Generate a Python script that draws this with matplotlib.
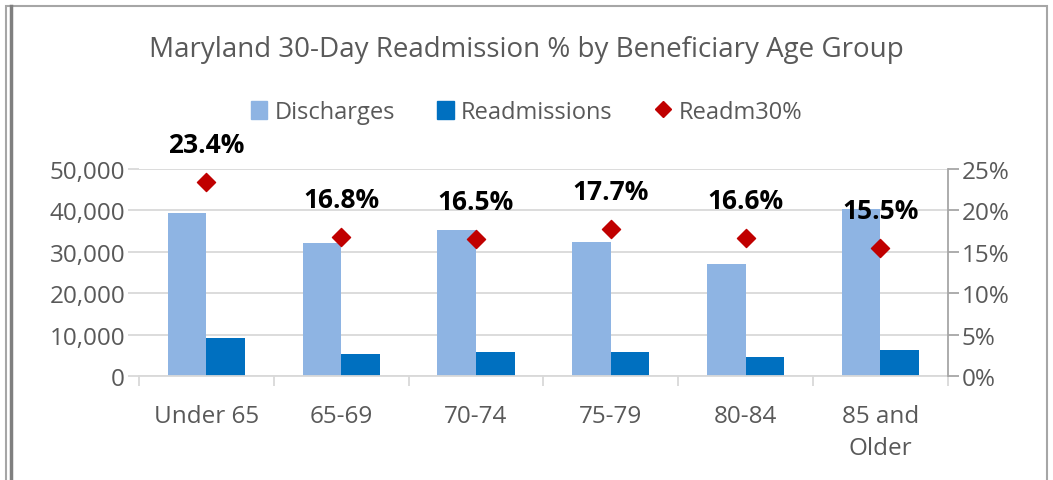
import matplotlib
matplotlib.use('Agg')
import matplotlib.pyplot as plt
import numpy as np
from matplotlib.patches import Rectangle
from matplotlib.lines import Line2D

plt.rcParams['font.family'] = ['Open Sans', 'DejaVu Sans']

# Данные
groups = ['Under 65', '65-69', '70-74', '75-79', '80-84', '85 and\nOlder']
discharges = [39400, 32100, 35300, 32300, 27000, 40300]
readmissions = [9200, 5400, 5800, 5700, 4500, 6250]
readm_pct = [23.4, 16.8, 16.5, 17.7, 16.6, 15.5]

light_blue = '#8eb4e3'
dark_blue = '#0070c0'
red = '#c00000'
gray = '#595959'
grid = '#d9d9d9'

fig = plt.figure(figsize=(10.53, 4.81), dpi=100)
ax = fig.add_axes([0.132, 0.216, 0.768, 0.431])
ax2 = ax.twinx()

x = np.arange(len(groups))
w = 0.286
ax.bar(x - w / 2, discharges, w, color=light_blue, zorder=2)
ax.bar(x + w / 2, readmissions, w, color=dark_blue, zorder=2)

ax.set_xlim(-0.5, len(groups) - 0.5)
ax.set_ylim(0, 50000)
ax.set_yticks(np.arange(0, 50001, 10000))
ax.set_yticklabels(['{:,}'.format(v) for v in range(0, 50001, 10000)])
ax.yaxis.grid(True, color=grid, linewidth=1.3, zorder=0)
ax.set_axisbelow(True)
ax.set_xticks(x)
ax.set_xticklabels(groups, linespacing=1.45)
ax.set_xticks(np.arange(-0.5, len(groups)), minor=True)
ax.tick_params(axis='x', which='major', length=0, pad=20, labelsize=17.5, labelcolor=gray)
ax.tick_params(axis='x', which='minor', length=7, color=grid, width=1.3)
ax.tick_params(axis='y', length=8, color=grid, width=1.3, labelsize=17.5, labelcolor=gray, pad=2)
for s in ['top', 'right', 'left']:
    ax.spines[s].set_visible(False)
ax.spines['bottom'].set_color(grid)
ax.spines['bottom'].set_linewidth(1.3)

ax2.scatter(x, readm_pct, marker='D', s=85, color=red, zorder=3)
ax2.set_ylim(0, 25)
ax2.set_yticks(np.arange(0, 26, 5))
ax2.set_yticklabels(['{}%'.format(v) for v in range(0, 26, 5)])
ax2.tick_params(axis='y', length=8, color='#a6a6a6', width=1.3, labelsize=17.5, labelcolor=gray, pad=2)
for s in ['top', 'left', 'bottom']:
    ax2.spines[s].set_visible(False)
ax2.spines['right'].set_color('#a6a6a6')
ax2.spines['right'].set_linewidth(1.3)

for xi, p in zip(x, readm_pct):
    ax2.annotate('{:.1f}%'.format(p), (xi, p), xytext=(0, 27), textcoords='offset points',
                 ha='center', va='center', fontsize=19, fontweight='bold', color='black')

fig.text(0.5, 0.896, 'Maryland 30-Day Readmission % by Beneficiary Age Group',
         ha='center', va='center', fontsize=20, color=gray)

handles = [Rectangle((0, 0), 1, 1, color=light_blue),
           Rectangle((0, 0), 1, 1, color=dark_blue),
           Line2D([], [], marker='D', color=red, linestyle='none', markersize=8)]
fig.legend(handles, ['Discharges', 'Readmissions', 'Readm30%'], loc='center',
           bbox_to_anchor=(0.5, 0.765), ncol=3, frameon=False, fontsize=17,
           labelcolor=gray, handlelength=0.7, handleheight=0.8, handletextpad=0.3,
           columnspacing=1.8)

# Рамка диаграммы
fig.patches.append(Rectangle((0.006, -0.05), 0.988, 1.035, transform=fig.transFigure,
                             fill=False, edgecolor='#a6a6a6', linewidth=1.5))
fig.lines.append(Line2D([0.010, 0.010], [0, 0.985], transform=fig.transFigure,
                        color='#7f7f7f', linewidth=2.5))

fig.savefig('out.png', dpi=100)
